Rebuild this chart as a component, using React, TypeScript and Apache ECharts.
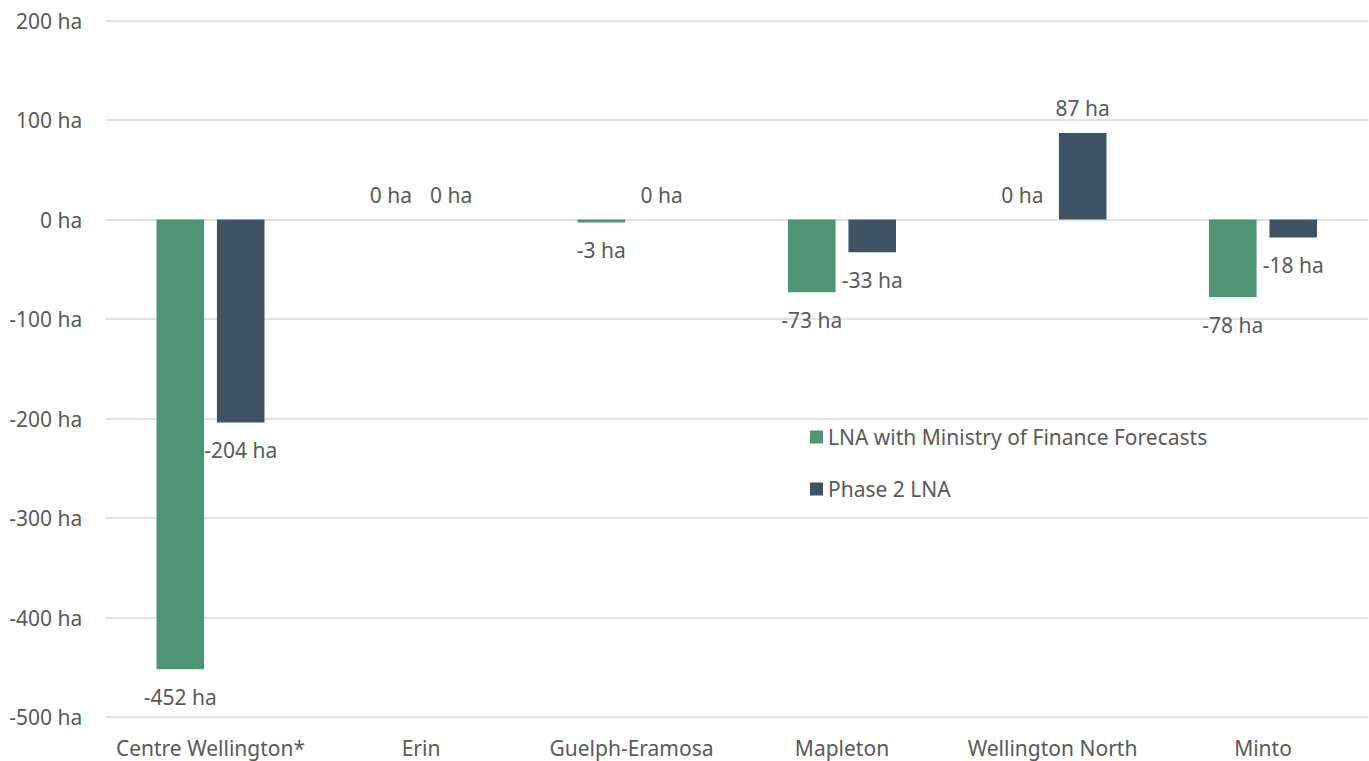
import React, { useEffect, useRef } from "react";
import * as echarts from "echarts";

const categories = ["Centre Wellington*", "Erin", "Guelph-Eramosa", "Mapleton", "Wellington North", "Minto"];
const seriesNames = ["LNA with Ministry of Finance Forecasts", "Phase 2 LNA"];
const mofValues = [-452, 0, -3, -73, 0, -78];
const phase2Values = [-204, 0, 0, -33, 87, -18];
const yTicks = { min: -500, max: 200, interval: 100 };

const FONT = "'Noto Sans', sans-serif";
const TEXT = "#595959";
const FS = 21;

function buildData(values: number[]) {
  return values.map((v) => ({
    value: v,
    label: { position: v < 0 ? "bottom" : "top", distance: v < 0 ? 17.5 : 14.5 },
  }));
}

export default function App() {
  const ref = useRef<HTMLDivElement>(null);
  useEffect(() => {
    if (!ref.current) return;
    const chart = echarts.init(ref.current, undefined, { renderer: "svg" });
    const labelCfg = {
      show: true,
      formatter: (p: any) => `${p.value} ha`,
      color: TEXT,
      fontFamily: FONT,
      fontSize: FS,
      lineHeight: 21,
    };
    chart.setOption({
      animation: false,
      backgroundColor: "#ffffff",
      textStyle: { fontFamily: FONT },
      grid: { left: 105.25, right: 0.75, top: 20.5, bottom: 44 },
      legend: {
        orient: "vertical",
        left: 810,
        top: 426.5,
        padding: 0,
        itemWidth: 13,
        itemHeight: 13,
        itemGap: 31,
        icon: "rect",
        textStyle: { color: TEXT, fontFamily: FONT, fontSize: FS, lineHeight: 21 },
        data: seriesNames,
      },
      xAxis: {
        type: "category",
        data: categories,
        axisLine: { show: false },
        axisTick: { show: false },
        axisLabel: { color: TEXT, fontFamily: FONT, fontSize: FS, margin: 20, interval: 0 },
      },
      yAxis: {
        type: "value",
        min: yTicks.min,
        max: yTicks.max,
        interval: yTicks.interval,
        axisLine: { show: false },
        axisTick: { show: false },
        axisLabel: {
          color: TEXT,
          fontFamily: FONT,
          fontSize: FS,
          margin: 23,
          formatter: (v: number) => `${v} ha`,
        },
        splitLine: { lineStyle: { color: "#d9d9d9", width: 1.5 } },
      },
      series: [
        {
          name: seriesNames[0],
          type: "bar",
          data: buildData(mofValues),
          barWidth: "22.6%",
          barGap: "27%",
          itemStyle: { color: "#4f9475" },
          label: labelCfg,
        },
        {
          name: seriesNames[1],
          type: "bar",
          data: buildData(phase2Values),
          barWidth: "22.6%",
          barGap: "27%",
          itemStyle: { color: "#3e5464" },
          label: labelCfg,
        },
      ],
    });
    return () => chart.dispose();
  }, []);
  return (
    <div
      ref={ref}
      style={{ position: "fixed", left: 0, top: 0, width: 1369, height: 761 }}
    />
  );
}
